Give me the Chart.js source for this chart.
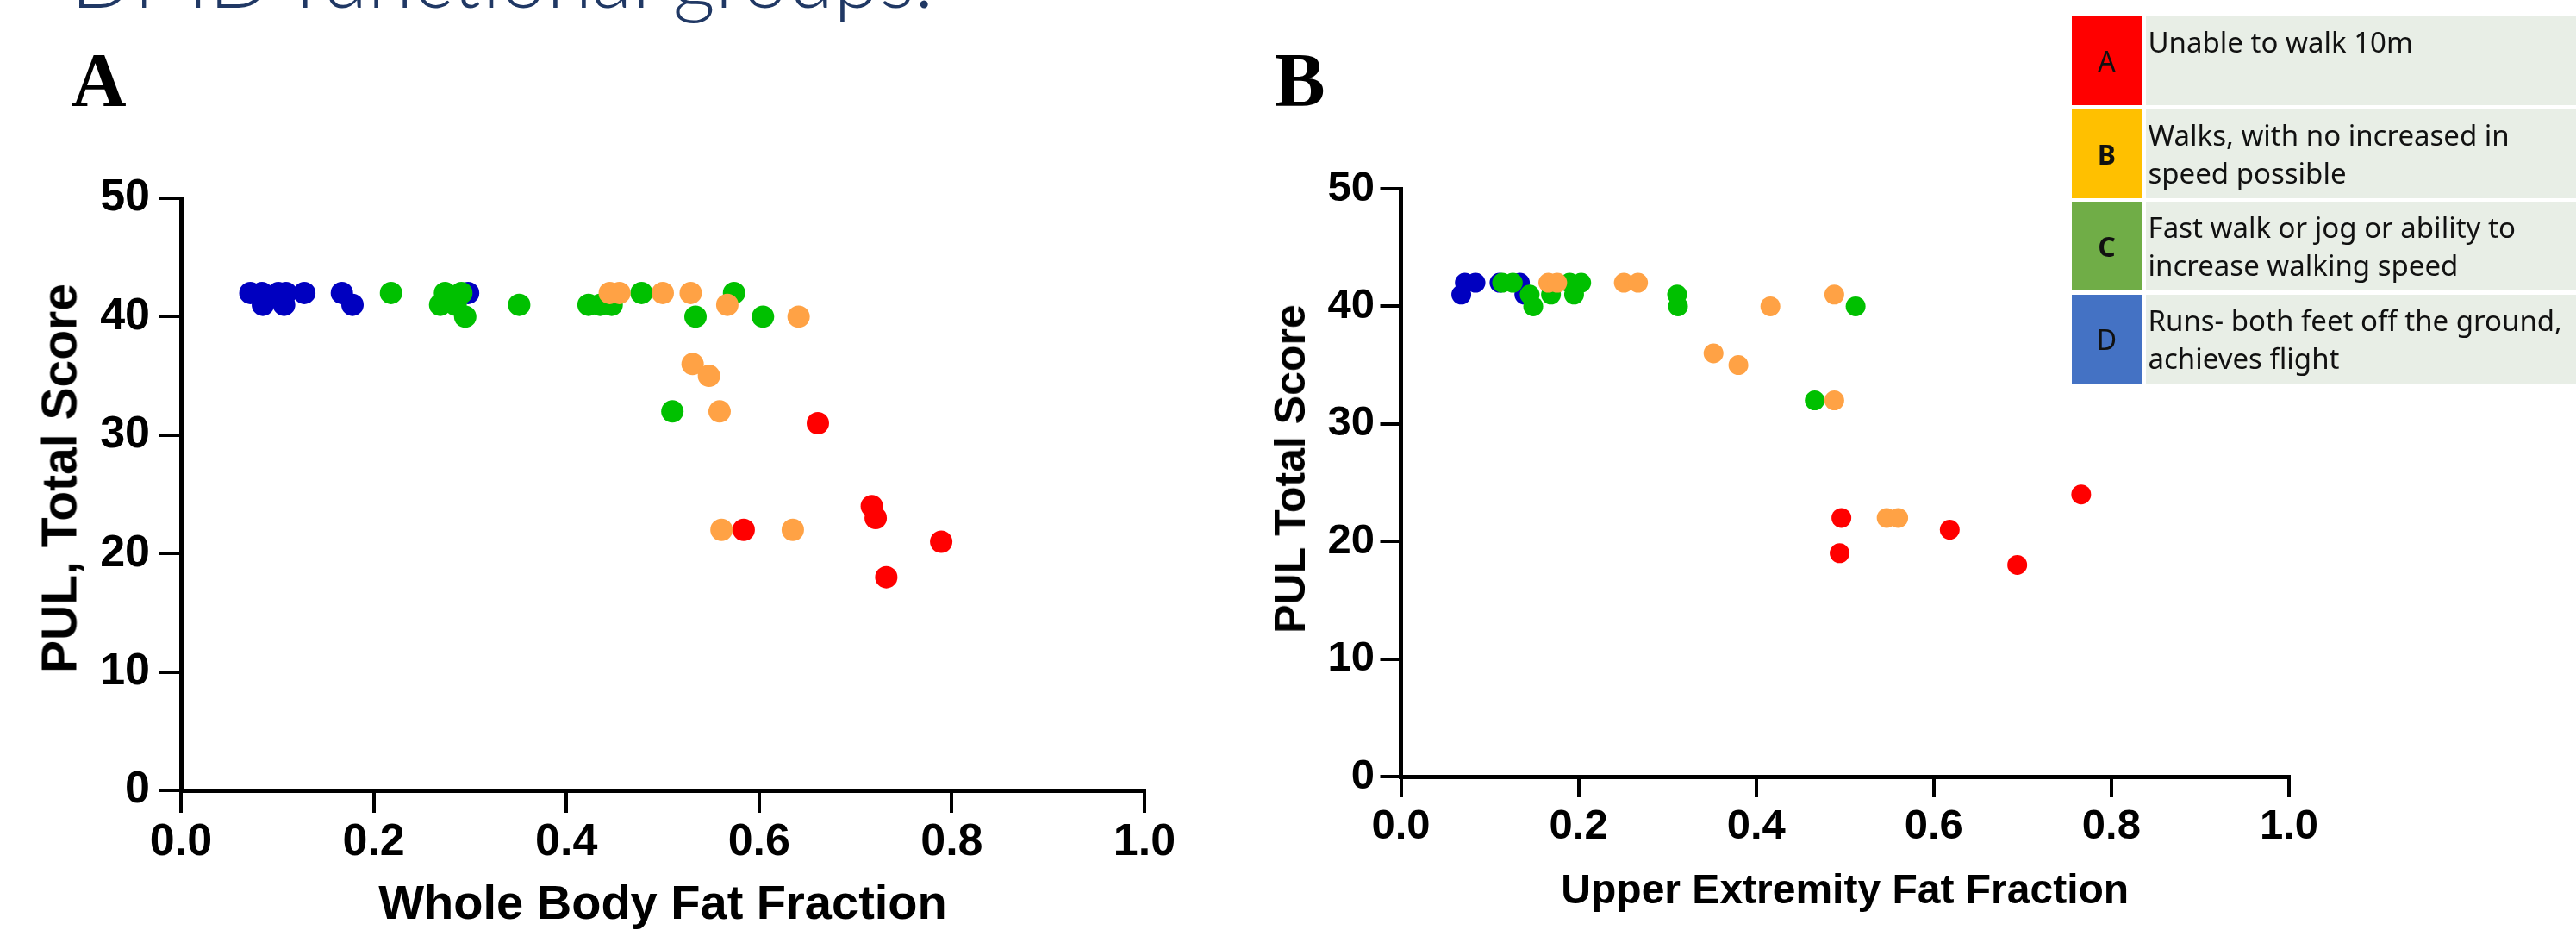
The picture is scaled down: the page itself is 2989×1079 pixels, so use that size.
<!DOCTYPE html>
<html lang="en">
<head>
<meta charset="UTF-8">
<title>PUL Total Score vs Fat Fraction</title>
<script src="https://cdn.jsdelivr.net/npm/chart.js"></script>
<style>
    html, body {
        margin: 0;
        padding: 0;
        width: 2989px;
        height: 1079px;
        overflow: hidden;
        background: #fff;
        position: relative;
    }
    .slide-title {
        position: absolute;
        left: 82px;
        top: -76px;
        font-family: Lato, sans-serif;
        font-weight: 300;
        font-size: 96px;
        line-height: 96px;
        color: #203864;
        white-space: nowrap;
    }
    .panel-letter {
        position: absolute;
        top: 49px;
        font-family: "Liberation Serif", serif;
        font-weight: bold;
        font-size: 88px;
        line-height: 88px;
        color: #000;
    }
    .chart-box {
        position: absolute;
        top: 150px;
        height: 929px;
    }
    #boxA { left: 0; width: 1400px; }
    #boxB { left: 1400px; width: 1589px; }
    .y-title {
        position: absolute;
        font-family: "Liberation Sans", Arial, sans-serif;
        font-weight: bold;
        line-height: 1;
        white-space: nowrap;
        color: #000;
        transform: translate(-50%, -50%) rotate(-90deg);
        z-index: 2;
    }
    .legend {
        position: absolute;
        left: 2404px;
        top: 19px;
        font-family: "Noto Sans", sans-serif;
        color: #111;
        z-index: 3;
    }
    .legend-row {
        display: flex;
        height: 103px;
        margin-bottom: 4.5px;
    }
    .legend-key {
        width: 81px;
        display: flex;
        align-items: center;
        justify-content: center;
        font-size: 32px;
    }
    .legend-text {
        margin-left: 4.5px;
        width: 520px;
        background: #E8EEE6;
        font-size: 33px;
        line-height: 44px;
        padding: 8px 0 0 3px;
        box-sizing: border-box;
        white-space: nowrap;
    }
</style>
</head>
<body>
    <div class="slide-title">DMD functional groups.</div>
    <div class="panel-letter" style="left:83px">A</div>
    <div class="panel-letter" style="left:1479px">B</div>

    <div class="chart-box" id="boxA"><canvas id="chartA"></canvas></div>
    <div class="chart-box" id="boxB"><canvas id="chartB"></canvas></div>

    <div class="y-title" style="left:69px; top:555px; font-size:57px">PUL, Total Score</div>
    <div class="y-title" style="left:1497px; top:544px; font-size:50px">PUL Total Score</div>

    <div class="legend" id="legend"></div>

<script>
// functional groups (legend)
const groupKeys = ['A', 'B', 'C', 'D'];
const groupKeyBold = [false, true, true, false];
const groupText = [
    ['Unable to walk 10m'],
    ['Walks, with no increased in', 'speed possible'],
    ['Fast walk or jog or ability to', 'increase walking speed'],
    ['Runs- both feet off the ground,', 'achieves flight']
];
const groupCellColors = ['#FF0000', '#FFC000', '#70AD47', '#4472C4'];
const groupDotColors = ['#FF0000', '#FFA245', '#00C000', '#0000C0'];

// axis ticks
const xTickValues = [0, 0.2, 0.4, 0.6, 0.8, 1.0];
const yTickValues = [0, 10, 20, 30, 40, 50];

// Panel A: whole body fat fraction vs PUL total score
const wbRedX = [0.661, 0.717, 0.721, 0.584, 0.789, 0.732];
const wbRedY = [31, 24, 23, 22, 21, 18];
const wbOrangeX = [0.445, 0.455, 0.500, 0.529, 0.567, 0.641, 0.531, 0.548, 0.559, 0.561, 0.635];
const wbOrangeY = [42, 42, 42, 42, 41, 40, 36, 35, 32, 22, 22];
const wbGreenX = [0.218, 0.274, 0.291, 0.269, 0.285, 0.295, 0.351, 0.423, 0.435, 0.447, 0.478, 0.574, 0.534, 0.604, 0.510];
const wbGreenY = [42, 42, 42, 41, 41, 40, 41, 41, 41, 41, 42, 42, 40, 40, 32];
const wbBlueX = [0.072, 0.084, 0.085, 0.101, 0.109, 0.107, 0.128, 0.167, 0.178, 0.298];
const wbBlueY = [42, 42, 41, 42, 42, 41, 42, 42, 41, 42];

// Panel B: upper extremity fat fraction vs PUL total score
const ueRedX = [0.496, 0.494, 0.618, 0.694, 0.766];
const ueRedY = [22, 19, 21, 18, 24];
const ueOrangeX = [0.166, 0.176, 0.251, 0.267, 0.416, 0.488, 0.352, 0.380, 0.488, 0.547, 0.560];
const ueOrangeY = [42, 42, 42, 42, 40, 41, 36, 35, 32, 22, 22];
const ueGreenX = [0.114, 0.126, 0.145, 0.149, 0.169, 0.190, 0.195, 0.203, 0.311, 0.312, 0.512, 0.466];
const ueGreenY = [42, 42, 41, 40, 41, 42, 41, 42, 41, 40, 40, 32];
const ueBlueX = [0.072, 0.084, 0.068, 0.111, 0.134, 0.139];
const ueBlueY = [42, 42, 41, 42, 42, 41];

// legend table
const legend = document.getElementById('legend');
groupKeys.forEach((key, i) => {
    const row = document.createElement('div');
    row.className = 'legend-row';
    const k = document.createElement('div');
    k.className = 'legend-key';
    k.style.background = groupCellColors[i];
    k.style.fontWeight = groupKeyBold[i] ? 'bold' : 'normal';
    k.textContent = key;
    const t = document.createElement('div');
    t.className = 'legend-text';
    t.innerHTML = groupText[i].join('<br>');
    row.appendChild(k);
    row.appendChild(t);
    legend.appendChild(row);
});

Chart.defaults.font.family = '"Liberation Sans", Arial, sans-serif';
Chart.defaults.color = '#000';

function points(xs, ys) {
    return xs.map((x, i) => ({ x: x, y: ys[i] }));
}

function dotSet(label, xs, ys, color, r) {
    return {
        label: label,
        data: points(xs, ys),
        backgroundColor: color,
        borderColor: color,
        borderWidth: 0,
        pointRadius: r,
        pointHoverRadius: r
    };
}

function makeChart(id, s) {
    return new Chart(document.getElementById(id), {
        type: 'scatter',
        data: {
            // first dataset is drawn on top
            datasets: [
                dotSet('A', s.red[0], s.red[1], groupDotColors[0], s.r),
                dotSet('B', s.orange[0], s.orange[1], groupDotColors[1], s.r),
                dotSet('C', s.green[0], s.green[1], groupDotColors[2], s.r),
                dotSet('D', s.blue[0], s.blue[1], groupDotColors[3], s.r)
            ]
        },
        options: {
            responsive: true,
            maintainAspectRatio: false,
            animation: false,
            layout: { padding: s.pad },
            plugins: {
                legend: { display: false },
                tooltip: { enabled: false }
            },
            scales: {
                x: {
                    type: 'linear',
                    min: 0,
                    max: 1,
                    afterBuildTicks: (sc) => { sc.ticks = xTickValues.map(v => ({ value: v })); },
                    afterFit: (sc) => { sc.height = s.xHeight; },
                    ticks: {
                        padding: s.xTickPad,
                        font: { size: s.tickSize, weight: 'bold', lineHeight: 1 },
                        callback: (v) => Number(v).toFixed(1)
                    },
                    grid: {
                        drawOnChartArea: false,
                        color: '#000',
                        lineWidth: 4,
                        tickLength: s.tickLen
                    },
                    border: { display: true, color: '#000', width: 5 },
                    title: {
                        display: true,
                        text: s.xTitle,
                        font: { size: s.xTitleSize, weight: 'bold', lineHeight: 1 },
                        padding: { top: 0, bottom: s.xTitlePad }
                    }
                },
                y: {
                    type: 'linear',
                    min: 0,
                    max: 50,
                    afterBuildTicks: (sc) => { sc.ticks = yTickValues.map(v => ({ value: v })); },
                    afterFit: (sc) => { sc.width = s.yWidth; },
                    ticks: {
                        padding: s.yTickPad,
                        font: { size: s.tickSize, weight: 'bold', lineHeight: 1 }
                    },
                    grid: {
                        drawOnChartArea: false,
                        color: '#000',
                        lineWidth: 4,
                        tickLength: s.tickLen
                    },
                    border: { display: true, color: '#000', width: 5 },
                    // y titles are placed as rotated text above the canvas
                    title: { display: false }
                }
            }
        }
    });
}

makeChart('chartA', {
    red: [wbRedX, wbRedY],
    orange: [wbOrangeX, wbOrangeY],
    green: [wbGreenX, wbGreenY],
    blue: [wbBlueX, wbBlueY],
    r: 13,
    pad: { left: 40, right: 72, top: 80, bottom: 0 },
    yWidth: 170,
    xHeight: 162,
    tickLen: 26,
    tickSize: 52,
    xTickPad: 9,
    yTickPad: 10,
    xTitle: 'Whole Body Fat Fraction',
    xTitleSize: 56,
    xTitlePad: 0
});

makeChart('chartB', {
    red: [ueRedX, ueRedY],
    orange: [ueOrangeX, ueOrangeY],
    green: [ueGreenX, ueGreenY],
    blue: [ueBlueX, ueBlueY],
    r: 11.5,
    pad: { left: 72, right: 333, top: 69, bottom: 0 },
    yWidth: 153.5,
    xHeight: 178,
    tickLen: 24,
    tickSize: 49,
    xTickPad: 10,
    yTickPad: 6.5,
    xTitle: 'Upper Extremity Fat Fraction',
    xTitleSize: 48,
    xTitlePad: 20
});
</script>
</body>
</html>
